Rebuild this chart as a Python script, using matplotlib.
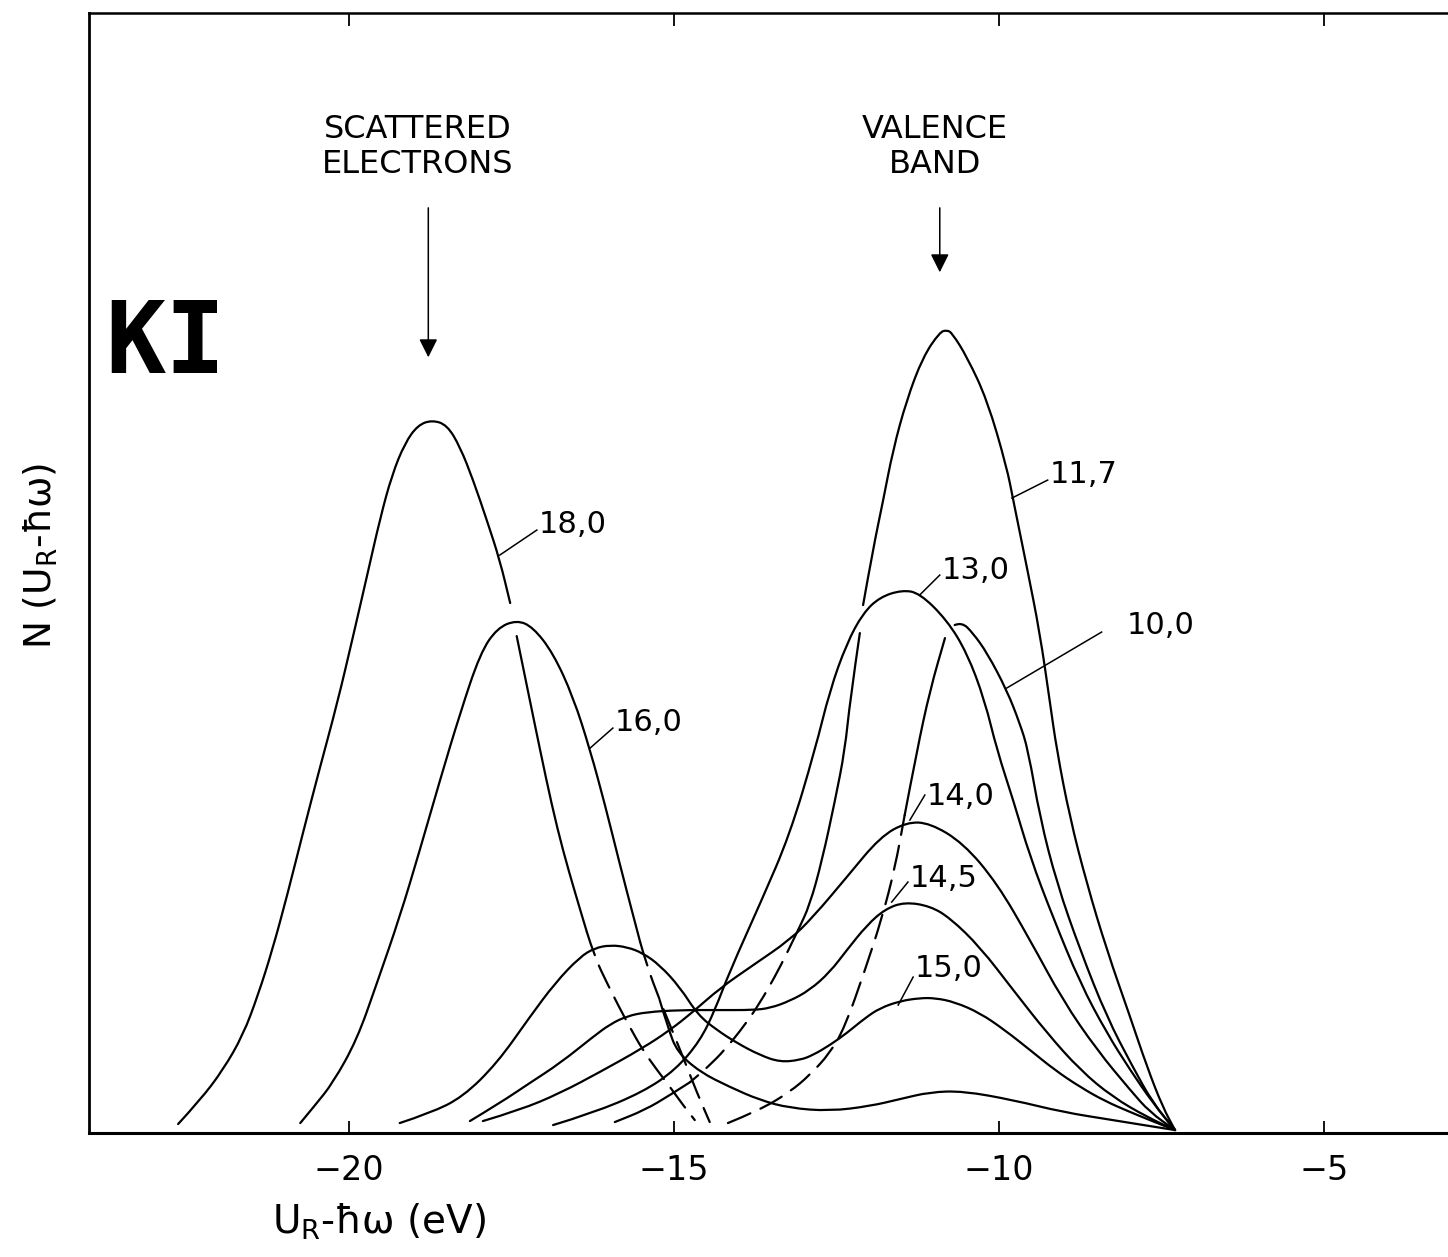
# ==================================================
# KI photoemission energy distribution curves
# ==================================================

import matplotlib
matplotlib.use("Agg")
import matplotlib.pyplot as plt
from matplotlib.path import Path
from matplotlib.patches import PathPatch

# =========================
# DATA  (x: U_R - hw in eV, y: arbitrary units)
# =========================
# 18.0 eV: scattered-electron peak
x18_a = [-22.63, -22.29, -21.94, -21.63, -21.40, -21.18, -20.95, -20.71, -20.45, -20.18,
         -19.94, -19.72, -19.52, -19.34, -19.14, -18.94, -18.72, -18.49, -18.29, -18.09,
         -17.88, -17.68, -17.52]
y18_a = [0.09, 0.33, 0.63, 0.98, 1.38, 1.83, 2.38, 3.00, 3.65, 4.30,
         4.96, 5.58, 6.15, 6.58, 6.90, 7.08, 7.13, 7.08, 6.86, 6.53,
         6.13, 5.73, 5.30]
x18_b = [-17.42, -17.25, -17.06, -16.88, -16.71, -16.52, -16.34]
y18_b = [4.97, 4.43, 3.83, 3.28, 2.83, 2.40, 2.01]
x18_d = [-16.34, -16.22, -16.03, -15.86, -15.68, -15.48, -15.26, -15.06, -14.86, -14.68]
y18_d = [2.01, 1.76, 1.50, 1.28, 1.06, 0.83, 0.63, 0.46, 0.28, 0.13]

# 16.0 eV
x16 = [-20.75, -20.52, -20.25, -19.88, -19.57, -19.22, -18.91, -18.60, -18.29, -17.98,
       -17.72, -17.42, -17.17, -16.86, -16.55, -16.29, -16.06, -15.83, -15.65, -15.52]
y16 = [0.10, 0.28, 0.50, 0.93, 1.50, 2.16, 2.83, 3.53, 4.20, 4.80,
       5.05, 5.13, 5.06, 4.80, 4.36, 3.83, 3.28, 2.68, 2.23, 1.91]
x16_d = [-15.52, -15.42, -15.22, -15.03, -14.83, -14.65, -14.45]
y16_d = [1.91, 1.68, 1.33, 1.03, 0.71, 0.41, 0.11]
x16_vb = [-15.22, -15.09, -14.95, -14.60, -14.14, -13.68, -13.22, -12.60, -11.98, -11.52,
          -11.06, -10.55, -9.78, -9.02, -8.25, -7.68, -7.29]
y16_vb = [1.33, 1.05, 0.81, 0.61, 0.46, 0.33, 0.25, 0.22, 0.27, 0.34,
          0.41, 0.42, 0.33, 0.21, 0.13, 0.07, 0.03]

# 15.0 eV
x15 = [-19.22, -18.75, -18.25, -17.72, -17.22, -16.83, -16.45, -16.22, -15.98, -15.72,
       -15.48, -15.22, -14.91, -14.63, -14.34, -14.03, -13.68, -13.37, -13.06, -12.86,
       -12.60, -12.34, -12.06, -11.83, -11.52, -11.22, -10.98, -10.68, -10.29, -9.91,
       -9.52, -9.14, -8.75, -8.37, -7.98, -7.68, -7.29]
y15 = [0.10, 0.20, 0.36, 0.70, 1.16, 1.50, 1.76, 1.85, 1.88, 1.86,
       1.80, 1.68, 1.46, 1.18, 1.03, 0.90, 0.78, 0.71, 0.73, 0.78,
       0.88, 1.00, 1.15, 1.25, 1.32, 1.35, 1.35, 1.31, 1.20, 1.03,
       0.83, 0.63, 0.46, 0.32, 0.21, 0.13, 0.03]

# 14.5 eV
x145 = [-18.14, -17.68, -17.22, -16.75, -16.25, -15.98, -15.72, -15.42, -14.91, -14.29,
        -13.78, -13.52, -13.22, -12.91, -12.60, -12.34, -12.03, -11.75, -11.45, -11.06,
        -10.75, -10.29, -9.78, -9.26, -8.75, -8.25, -7.72, -7.29]
y145 = [0.12, 0.30, 0.50, 0.70, 0.96, 1.09, 1.17, 1.21, 1.23, 1.23,
        1.23, 1.25, 1.32, 1.43, 1.61, 1.83, 2.08, 2.24, 2.31, 2.27,
        2.15, 1.86, 1.43, 1.00, 0.63, 0.36, 0.16, 0.03]

# 14.0 eV
x14 = [-17.94, -17.37, -16.75, -16.14, -15.48, -15.06, -14.71, -14.29, -13.78, -13.22,
       -12.86, -12.34, -11.83, -11.42, -11.06, -10.55, -10.03, -9.52, -9.02, -8.49,
       -7.98, -7.68, -7.29]
y14 = [0.12, 0.23, 0.40, 0.61, 0.85, 1.03, 1.21, 1.45, 1.68, 1.93,
       2.16, 2.56, 2.96, 3.11, 3.10, 2.90, 2.50, 1.93, 1.33, 0.83,
       0.43, 0.21, 0.03]

# 13.0 eV
x13 = [-16.86, -16.25, -15.48, -14.98, -14.60, -14.37, -14.14, -13.65, -13.22, -12.83,
       -12.60, -12.34, -12.09, -11.83, -11.49, -11.22, -10.80, -10.49, -10.22, -10.03,
       -9.78, -9.52, -9.17, -8.75, -8.34, -7.98, -7.63, -7.29]
y13 = [0.08, 0.20, 0.41, 0.63, 0.92, 1.23, 1.62, 2.33, 2.98, 3.83,
       4.43, 4.90, 5.20, 5.36, 5.43, 5.40, 5.13, 4.80, 4.33, 3.83,
       3.33, 2.76, 2.16, 1.50, 1.00, 0.63, 0.30, 0.03]

# 11.7 eV
x117_top = [-12.09, -11.94, -11.78, -11.63, -11.42, -11.17, -10.91, -10.80, -10.72, -10.49,
            -10.18, -9.88, -9.78, -9.57, -9.37, -9.22, -9.11, -8.91, -8.65, -8.34,
            -7.98, -7.72, -7.48, -7.29]
y117_top = [5.28, 5.83, 6.33, 6.83, 7.33, 7.76, 8.01, 8.03, 8.00, 7.76,
            7.33, 6.66, 6.33, 5.66, 5.00, 4.33, 3.83, 3.16, 2.50, 1.83,
            1.16, 0.66, 0.26, 0.03]
x117_low = [-12.14, -12.29, -12.37, -12.52, -12.72, -12.91, -13.09]
y117_low = [5.00, 4.33, 3.83, 3.33, 2.73, 2.28, 2.03]
x117_d = [-13.09, -13.26, -13.45, -13.68, -13.91, -14.22, -14.48, -14.75]
y117_d = [2.03, 1.80, 1.56, 1.30, 1.08, 0.83, 0.66, 0.51]
x117_tail = [-14.75, -15.06, -15.45, -15.91]
y117_tail = [0.51, 0.38, 0.23, 0.11]

# 10.0 eV
x10_d = [-14.17, -13.68, -13.22, -12.91, -12.60, -12.37, -12.06, -11.80, -11.60, -11.45]
y10_d = [0.10, 0.23, 0.41, 0.58, 0.80, 1.06, 1.63, 2.15, 2.65, 3.18]
x10_l = [-11.45, -11.26, -11.06, -10.83]
y10_l = [3.18, 3.83, 4.43, 4.95]
x10_r = [-10.68, -10.57, -10.40, -10.18, -9.88, -9.68, -9.55, -9.37, -9.11, -8.75,
         -8.34, -7.94, -7.63, -7.29]
y10_r = [5.08, 5.11, 5.00, 4.80, 4.43, 4.10, 3.83, 3.16, 2.50, 1.83,
         1.16, 0.66, 0.30, 0.03]

# curve labels: text, leader start (x, y), leader end (x, y)
labels = ["18,0", "16,0", "11,7", "13,0", "10,0", "14,0", "14,5", "15,0"]
lead_x0 = [-17.68, -16.29, -9.80, -11.22, -9.88, -11.37, -11.65, -11.55]
lead_y0 = [5.78, 3.85, 6.35, 5.38, 4.45, 3.13, 2.31, 1.28]
lead_x1 = [-17.11, -15.94, -9.25, -10.91, -8.42, -11.14, -11.40, -11.32]
lead_y1 = [6.03, 4.05, 6.53, 5.58, 5.01, 3.38, 2.51, 1.56]
text_x = [-17.08, -15.91, -9.22, -10.88, -8.03, -11.11, -11.37, -11.29]
text_y = [6.09, 4.11, 6.59, 5.63, 5.08, 3.37, 2.55, 1.65]

xticks = [-20, -15, -10, -5]


# =========================
# HELPERS
# =========================
def draw_curve(ax, xs, ys, ls="solid"):
    # smooth rendering: quadratic B-spline path through the read points
    pts = list(zip(xs, ys))
    verts = [pts[0]]
    codes = [Path.MOVETO]
    for i in range(1, len(pts) - 1):
        nxt = pts[i + 1]
        mid = ((pts[i][0] + nxt[0]) / 2, (pts[i][1] + nxt[1]) / 2)
        verts += [pts[i], mid]
        codes += [Path.CURVE3, Path.CURVE3]
    verts.append(pts[-1])
    codes.append(Path.LINETO)
    patch = PathPatch(Path(verts, codes), fill=False, edgecolor="black",
                      lw=1.6, linestyle=ls, capstyle="round", joinstyle="round")
    ax.add_patch(patch)


# =========================
# PLOT
# =========================
plt.rcParams["font.family"] = ["DejaVu Sans"]

fig = plt.figure(figsize=(14.48, 12.57), dpi=100)
ax = fig.add_axes([0.0615, 0.0986, 0.9385, 0.891])

DASH = (0, (11, 5))

solid = [(x18_a, y18_a), (x18_b, y18_b), (x16, y16), (x16_vb, y16_vb),
         (x15, y15), (x145, y145), (x14, y14), (x13, y13),
         (x117_top, y117_top), (x117_low, y117_low), (x117_tail, y117_tail),
         (x10_l, y10_l), (x10_r, y10_r)]
dashed = [(x18_d, y18_d), (x16_d, y16_d), (x117_d, y117_d), (x10_d, y10_d)]

for xs, ys in solid:
    draw_curve(ax, xs, ys)
for xs, ys in dashed:
    draw_curve(ax, xs, ys, ls=DASH)

for i, lab in enumerate(labels):
    ax.plot([lead_x0[i], lead_x1[i]], [lead_y0[i], lead_y1[i]], color="black", lw=1.1)
    ax.text(text_x[i], text_y[i], lab, fontsize=22, ha="left", va="center")

# annotations
ax.text(-18.94, 9.86, "SCATTERED\nELECTRONS", fontsize=23, ha="center", va="center",
        linespacing=1.15)
ax.text(-10.98, 9.86, "VALENCE\nBAND", fontsize=23, ha="center", va="center",
        linespacing=1.15)
ax.annotate("", xy=(-18.78, 7.73), xytext=(-18.78, 9.28),
            arrowprops=dict(arrowstyle="-|>", lw=1.1, color="black", mutation_scale=28))
ax.annotate("", xy=(-10.91, 8.58), xytext=(-10.91, 9.28),
            arrowprops=dict(arrowstyle="-|>", lw=1.1, color="black", mutation_scale=28))

ax.text(-22.83, 7.88, "KI", fontsize=72, fontweight="bold", family="DejaVu Sans Mono",
        ha="center", va="center")

# axes
ax.set_xlim(-24.0, -3.09)
ax.set_ylim(0, 11.2)
ax.set_xticks(xticks)
ax.set_xticklabels([str(t).replace("-", "\u2212") for t in xticks], fontsize=24)
ax.set_yticks([])
ax.tick_params(axis="x", direction="in", length=9, width=1.3, pad=15,
               top=True, labeltop=False)
ax.spines["right"].set_visible(False)
ax.spines["left"].set_linewidth(2.0)
ax.spines["bottom"].set_linewidth(2.2)
ax.spines["top"].set_linewidth(1.8)

fig.text(0.262, 0.028, "U$_\\mathregular{R}$-ħω (eV)", fontsize=28, ha="center", va="center")
fig.text(0.028, 0.558, "N (U$_\\mathregular{R}$-ħω)", fontsize=27, ha="center", va="center",
         rotation=90)

plt.savefig("out.png", dpi=100)
plt.close()
